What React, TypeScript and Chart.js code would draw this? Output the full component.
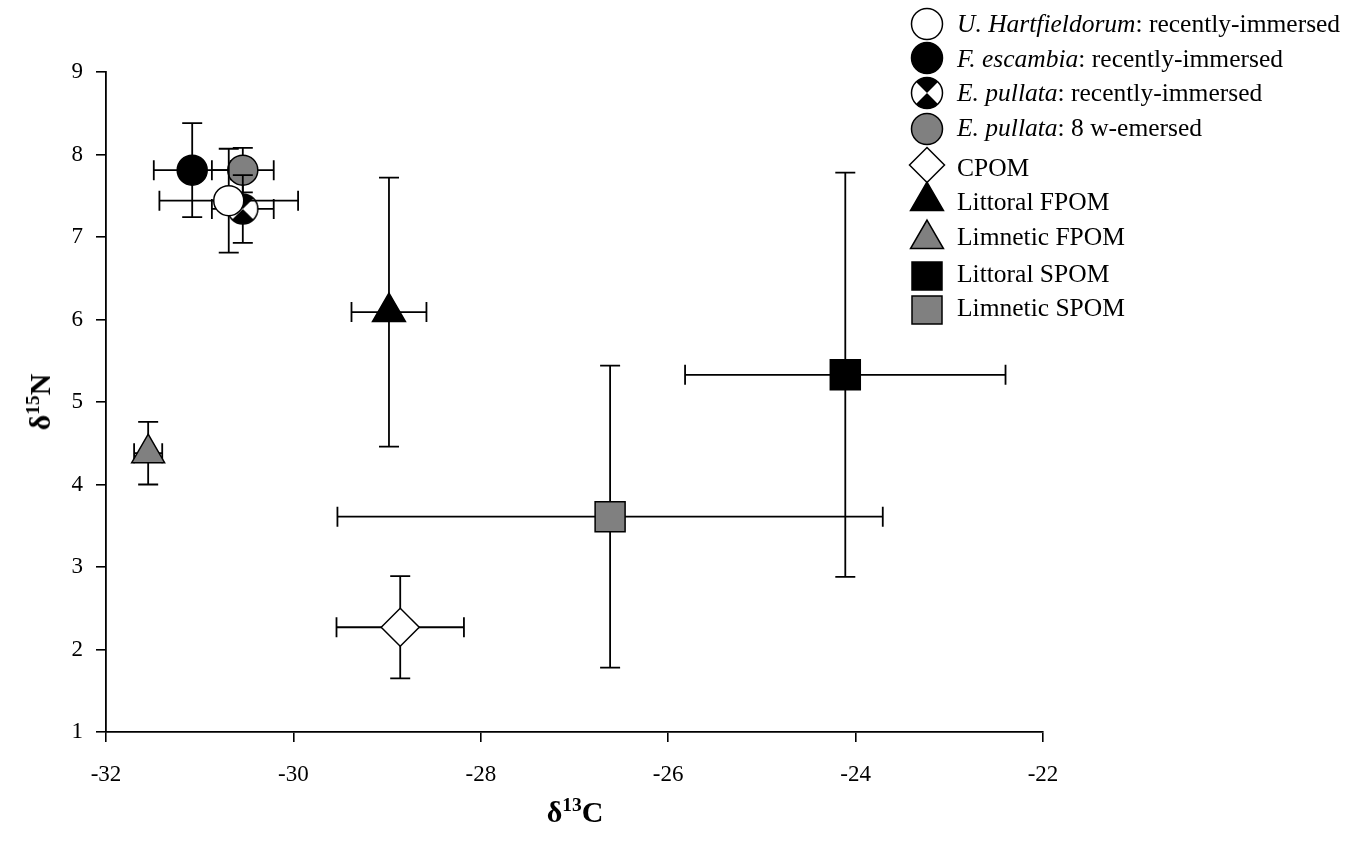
import React, { useEffect, useRef } from "react";
import { Chart, registerables } from "chart.js";

Chart.register(...registerables);

// ---- data ----
const seriesLabels = [
  "U. Hartfieldorum: recently-immersed",
  "F. escambia: recently-immersed",
  "E. pullata: recently-immersed",
  "E. pullata: 8 w-emersed",
  "CPOM",
  "Littoral FPOM",
  "Limnetic FPOM",
  "Littoral SPOM",
  "Limnetic SPOM",
];
const labelItalic = ["U. Hartfieldorum", "F. escambia", "E. pullata", "E. pullata", "", "", "", "", ""];
const labelRest = [
  ": recently-immersed",
  ": recently-immersed",
  ": recently-immersed",
  ": 8 w-emersed",
  "CPOM",
  "Littoral FPOM",
  "Limnetic FPOM",
  "Littoral SPOM",
  "Limnetic SPOM",
];
const xValues = [-30.69, -31.08, -30.54, -30.54, -28.86, -28.98, -31.55, -24.11, -26.62];
const yValues = [7.44, 7.81, 7.34, 7.81, 2.27, 6.09, 4.38, 5.33, 3.61];
const xErrors = [0.74, 0.41, 0.33, 0.33, 0.68, 0.4, 0.15, 1.71, 2.91];
const yErrors = [0.63, 0.57, 0.41, 0.27, 0.62, 1.63, 0.38, 2.45, 1.83];
const xTicks = [-32, -30, -28, -26, -24, -22];
const yTicks = [1, 2, 3, 4, 5, 6, 7, 8, 9];

// ---- styles ----
const GRAY = "#808080";
const FONT = "'Liberation Serif', 'Times New Roman', Times, serif";
type Kind = "circle" | "check" | "diamond" | "triangle" | "square";
const kinds: Kind[] = ["circle", "circle", "check", "circle", "diamond", "triangle", "triangle", "square", "square"];
const fills = ["#ffffff", "#000000", "#ffffff", GRAY, "#ffffff", "#000000", GRAY, "#000000", GRAY];
const drawOrder = [0, 3, 1, 2, 4, 5, 6, 7, 8]; // lower = drawn later (on top)

function makeCheckCanvas(): HTMLCanvasElement {
  const c = document.createElement("canvas");
  c.width = 36;
  c.height = 36;
  const ctx = c.getContext("2d")!;
  const cx = 18, cy = 18, r = 15;
  ctx.beginPath();
  ctx.arc(cx, cy, r, 0, Math.PI * 2);
  ctx.fillStyle = "#fff";
  ctx.fill();
  ctx.fillStyle = "#000";
  ctx.beginPath();
  ctx.moveTo(cx, cy);
  ctx.arc(cx, cy, r, (-3 * Math.PI) / 4, -Math.PI / 4);
  ctx.closePath();
  ctx.fill();
  ctx.beginPath();
  ctx.moveTo(cx, cy);
  ctx.arc(cx, cy, r, Math.PI / 4, (3 * Math.PI) / 4);
  ctx.closePath();
  ctx.fill();
  ctx.strokeStyle = "#000";
  ctx.lineWidth = 1.5;
  ctx.beginPath();
  ctx.arc(cx, cy, r, 0, Math.PI * 2);
  ctx.stroke();
  return c;
}

const errorBarPlugin = {
  id: "errorBars",
  beforeDatasetDraw(chart: any, args: any) {
    const i = args.index;
    const xs = chart.scales.x;
    const ys = chart.scales.y;
    const ctx = chart.ctx;
    const x = xValues[i];
    const y = yValues[i];
    const px = xs.getPixelForValue(x);
    const py = ys.getPixelForValue(y);
    const xl = xs.getPixelForValue(x - xErrors[i]);
    const xr = xs.getPixelForValue(x + xErrors[i]);
    const yt = ys.getPixelForValue(y + yErrors[i]);
    const yb = ys.getPixelForValue(y - yErrors[i]);
    const cap = 10;
    ctx.save();
    ctx.strokeStyle = "#000";
    ctx.lineWidth = 1.8;
    ctx.beginPath();
    ctx.moveTo(xl, py);
    ctx.lineTo(xr, py);
    ctx.moveTo(xl, py - cap);
    ctx.lineTo(xl, py + cap);
    ctx.moveTo(xr, py - cap);
    ctx.lineTo(xr, py + cap);
    ctx.moveTo(px, yt);
    ctx.lineTo(px, yb);
    ctx.moveTo(px - cap, yt);
    ctx.lineTo(px + cap, yt);
    ctx.moveTo(px - cap, yb);
    ctx.lineTo(px + cap, yb);
    ctx.stroke();
    ctx.restore();
  },
};

function LegendMarker({ kind, fill }: { kind: Kind; fill: string }) {
  const s = { stroke: "#000", strokeWidth: 1.5 };
  const c = 24;
  let el: any = null;
  if (kind === "circle") el = <circle cx={c} cy={c} r={15.5} fill={fill} {...s} />;
  if (kind === "check") {
    const d = 15.5 * Math.SQRT1_2;
    el = (
      <g>
        <circle cx={c} cy={c} r={15.5} fill="#fff" />
        <path d={`M${c},${c} L${c - d},${c - d} A15.5,15.5 0 0 1 ${c + d},${c - d} Z`} fill="#000" />
        <path d={`M${c},${c} L${c + d},${c + d} A15.5,15.5 0 0 1 ${c - d},${c + d} Z`} fill="#000" />
        <circle cx={c} cy={c} r={15.5} fill="none" {...s} />
      </g>
    );
  }
  if (kind === "diamond")
    el = <polygon points={`${c},${c - 17.5} ${c + 17.5},${c} ${c},${c + 17.5} ${c - 17.5},${c}`} fill={fill} {...s} />;
  if (kind === "triangle") {
    const r = 19;
    const h = r * Math.sqrt(3) / 2;
    el = <polygon points={`${c},${c - r} ${c + h},${c + r / 2} ${c - h},${c + r / 2}`} fill={fill} {...s} />;
  }
  if (kind === "square") el = <rect x={c - 15} y={c - 14} width={30} height={28} fill={fill} {...s} />;
  return (
    <svg width={48} height={48} viewBox="0 0 48 48" style={{ display: "block" }}>
      {el}
    </svg>
  );
}

const legendTextY = [24, 59, 93, 128, 168, 202, 237, 274, 308];
const legendMarkY = [24, 58, 93, 129, 165, 201, 239, 276, 310];

export default function App() {
  const ref = useRef<HTMLCanvasElement | null>(null);

  useEffect(() => {
    document.body.style.margin = "0";
    const check = makeCheckCanvas();
    const datasets = seriesLabels.map((label, i) => {
      const k = kinds[i];
      const style: any =
        k === "check" ? check : k === "diamond" ? "rectRot" : k === "square" ? "rect" : k;
      const radius = k === "circle" ? 15 : k === "diamond" ? 19 : k === "triangle" ? 19 : k === "square" ? 21.2 : 15;
      return {
        label,
        data: [{ x: xValues[i], y: yValues[i] }],
        showLine: false,
        pointStyle: style,
        pointRadius: radius,
        pointHoverRadius: radius,
        pointBackgroundColor: fills[i],
        pointBorderColor: "#000",
        pointBorderWidth: 1.5,
        order: drawOrder[i],
        clip: false as any,
      };
    });
    const chart = new Chart(ref.current!, {
      type: "scatter",
      data: { datasets },
      plugins: [errorBarPlugin],
      options: {
        animation: false,
        responsive: false,
        devicePixelRatio: 1,
        layout: { padding: { top: 72, right: 316, left: 0, bottom: 0 } },
        plugins: { legend: { display: false }, tooltip: { enabled: false } },
        scales: {
          x: {
            type: "linear",
            min: -32,
            max: -22,
            afterBuildTicks: (s: any) => {
              s.ticks = xTicks.map((v) => ({ value: v }));
            },
            afterFit: (s: any) => {
              s.height = 109;
            },
            grid: { drawOnChartArea: false, drawTicks: true, tickLength: 10, color: "#000", lineWidth: 1.6 },
            border: { display: true, color: "#000", width: 1.8 },
            ticks: { color: "#000", font: { family: FONT, size: 23 }, padding: 19, maxRotation: 0 },
          },
          y: {
            type: "linear",
            min: 1,
            max: 9,
            afterBuildTicks: (s: any) => {
              s.ticks = yTicks.map((v) => ({ value: v }));
            },
            afterFit: (s: any) => {
              s.width = 106;
            },
            grid: { drawOnChartArea: false, drawTicks: true, tickLength: 10, color: "#000", lineWidth: 1.6 },
            border: { display: true, color: "#000", width: 1.8 },
            ticks: { color: "#000", font: { family: FONT, size: 23 }, padding: 13 },
          },
        },
      },
    });
    return () => chart.destroy();
  }, []);

  return (
    <div style={{ position: "absolute", left: 0, top: 0, width: 1359, height: 841, background: "#fff", fontFamily: FONT }}>
      <canvas ref={ref} width={1359} height={841} style={{ position: "absolute", left: 0, top: 0 }} />
      {seriesLabels.map((_, i) => (
        <React.Fragment key={i}>
          <div style={{ position: "absolute", left: 927 - 24, top: legendMarkY[i] - 24 }}>
            <LegendMarker kind={kinds[i]} fill={fills[i]} />
          </div>
          <div
            style={{
              position: "absolute",
              left: 957,
              top: legendTextY[i] - 17,
              fontSize: 25.5,
              lineHeight: "34px",
              whiteSpace: "nowrap",
              color: "#000",
            }}
          >
            {labelItalic[i] ? <i>{labelItalic[i]}</i> : null}
            {labelRest[i]}
          </div>
        </React.Fragment>
      ))}
      <div
        style={{
          position: "absolute",
          left: 575,
          top: 797,
          transform: "translateX(-50%)",
          fontSize: 30,
          fontWeight: "bold",
          lineHeight: "30px",
          whiteSpace: "nowrap",
        }}
      >
        δ<span style={{ fontSize: "0.65em", position: "relative", top: "-0.55em" }}>13</span>C
      </div>
      <div
        style={{
          position: "absolute",
          left: 42,
          top: 402,
          transform: "translate(-50%, -50%) rotate(-90deg)",
          fontSize: 30,
          fontWeight: "bold",
          lineHeight: "30px",
          whiteSpace: "nowrap",
        }}
      >
        δ<span style={{ fontSize: "0.65em", position: "relative", top: "-0.55em" }}>15</span>N
      </div>
    </div>
  );
}
